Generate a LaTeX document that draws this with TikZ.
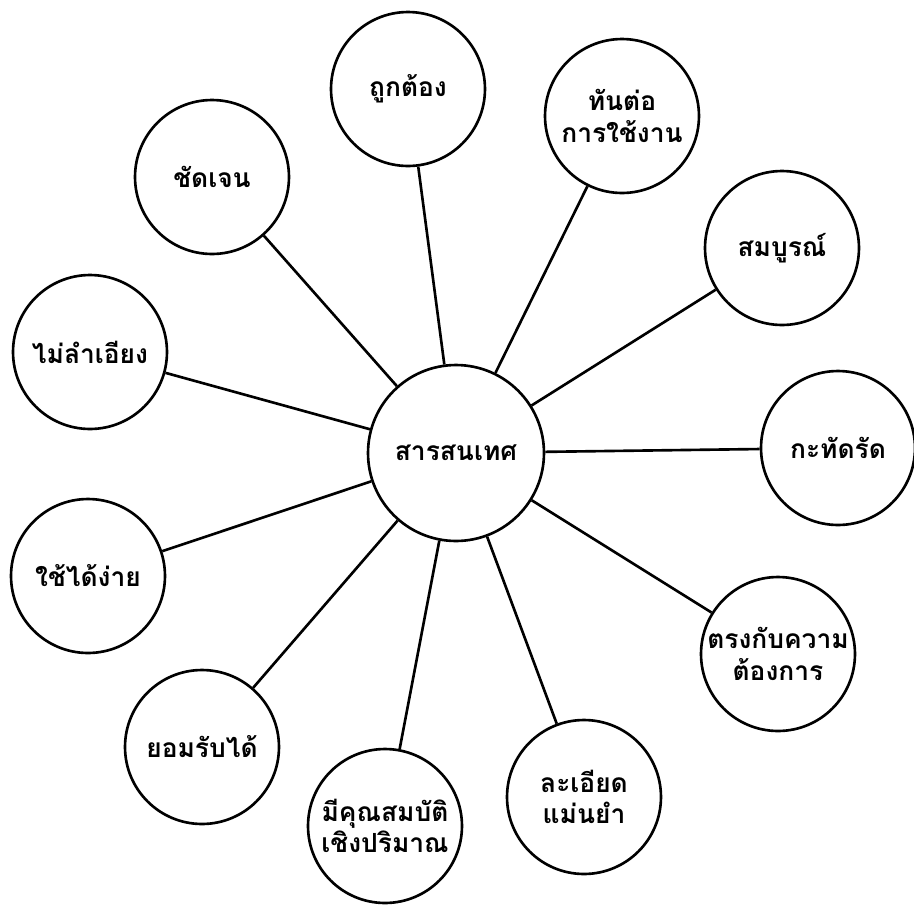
\documentclass[tikz,border=0pt]{standalone}
\usepackage{fontspec}
\newfontfamily\thaifont[Script=Thai]{Loma}
\begin{document}
\begin{tikzpicture}[x=0.02cm, y=-0.02cm, line width=1.5pt,
  every node/.style={font=\thaifont\bfseries\fontsize{15}{18}\selectfont, align=center},
  hub/.style={draw, circle, minimum size=3.52cm, inner sep=0pt},
  leaf/.style={draw, circle, minimum size=3.08cm, inner sep=0pt, fill=white}]
\useasboundingbox (0,0) rectangle (914,904);
% Centre
\node[hub] (info) at (456,453) {สารสนเทศ};
% Qualities round it
\foreach \n/\px/\py/\txt in {
  correct/408/89/{ถูกต้อง},
  timely/622/116/{ทันต่อ\\การใช้งาน},
  complete/782/248/{สมบูรณ์},
  concise/838/448/{กะทัดรัด},
  relevant/778/654/{ตรงกับความ\\ต้องการ},
  precise/584/797/{ละเอียด\\แม่นยำ},
  quantity/385/826/{มีคุณสมบัติ\\เชิงปริมาณ},
  accept/202/747/{ยอมรับได้},
  easy/88/576/{ใช้ได้ง่าย},
  unbiased/90/352/{ไม่ลำเอียง},
  clear/212/177/{ชัดเจน}}
  \node[leaf] (\n) at (\px,\py) {\txt};
% Spokes
\foreach \n in {correct,timely,complete,concise,relevant,precise,quantity,accept,easy,unbiased,clear}
  \draw (info) -- (\n);
\end{tikzpicture}
\end{document}
